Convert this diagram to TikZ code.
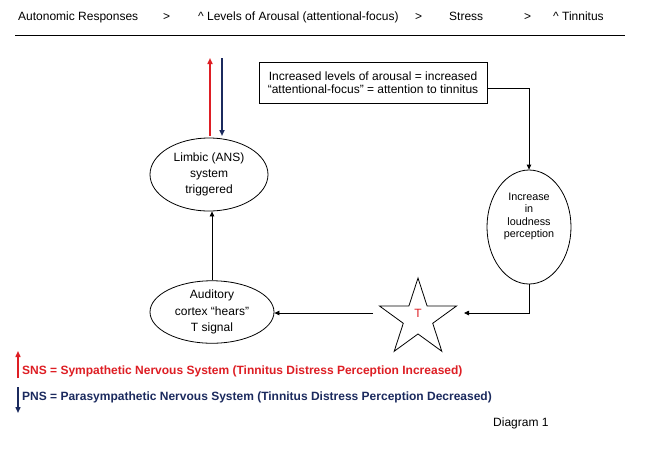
\documentclass[tikz,border=0pt]{standalone}
\usepackage{fontspec}
\setmainfont{Liberation Sans}
\usetikzlibrary{shapes.geometric,arrows.meta}
\definecolor{snsred}{RGB}{222,30,36}
\definecolor{pnsblue}{RGB}{27,42,94}
\begin{document}
\begin{tikzpicture}[x=1pt,y=-1pt,
  conn/.style={draw=black,line width=0.8pt,-{Triangle[length=5pt,width=4.5pt]}},
  oval/.style={draw,ellipse,line width=0.8pt,inner sep=0pt,align=center},
  hdr/.style={anchor=base west,inner sep=0pt,font=\fontsize{12}{14}\selectfont},
  legend/.style={anchor=west,inner sep=0pt,font=\bfseries\fontsize{12}{14}\selectfont},
  colarrow/.style={line width=1.6pt,-{Triangle[length=6pt,width=5pt]}}]
\useasboundingbox[fill=white] (0,0) rectangle (645,451);

% header
\node[hdr] (h1) at (18,20.5) {Autonomic Responses};
\node[hdr] (h2) at (163,20.5) {>};
\node[hdr] (h3) at (198,20.5) {\textasciicircum\ Levels of Arousal (attentional-focus)};
\node[hdr] (h4) at (415,20.5) {>};
\node[hdr] (h5) at (449,20.5) {Stress};
\node[hdr] (h6) at (524,20.5) {>};
\node[hdr] (h7) at (553,20.5) {\textasciicircum\ Tinnitus};
\coordinate (hl) at (15,35);
\coordinate (hr) at (625,35);
\draw[line width=1pt] (hl) -- (hr);

% nodes
\node[oval,minimum width=118pt,minimum height=73pt,font=\fontsize{12}{16}\selectfont] (limbic) at (209,174.5) {Limbic (ANS)\\system\\triggered};
\node[oval,minimum width=124pt,minimum height=62pt,font=\fontsize{12}{16.5}\selectfont] (aud) at (212,312) {Auditory\\cortex “hears”\\T signal};
\node[draw,line width=0.8pt,minimum width=228pt,minimum height=41pt,inner sep=0pt,align=center,font=\fontsize{12}{12.8}\selectfont] (box) at (373,82.5) {Increased levels of arousal = increased\\“attentional-focus” = attention to tinnitus};
\node[oval,minimum width=84pt,minimum height=114pt] (loud) at (529,227) {};
\node[inner sep=0pt,align=center,font=\fontsize{10.8}{12.3}\selectfont] (loudtxt) at (529,216.5) {Increase\\in\\loudness\\perception};
\node[star,star points=5,star point ratio=2.618,draw,line width=0.8pt,minimum size=81pt,inner sep=0pt] (star) at (418,318.5) {};
\node[inner sep=0pt,text=snsred,font=\fontsize{12}{14}\selectfont] (tlab) at (418,313) {T};

% connectors
\draw[conn] ([yshift=-6pt]box.east) -| (loud.north);
\coordinate (starin) at (464,313);
\draw[conn] (loud.south) |- (starin);
\coordinate (starout) at (373,313);
\draw[conn] (starout) -- (starout -| aud.east);
\draw[conn] (aud.north) -- (aud.north |- limbic.south);

% SNS / PNS arrows at limbic
\coordinate (r1) at (210,136);
\coordinate (r2) at (210,58);
\coordinate (b1) at (222,58);
\coordinate (b2) at (222,136);
\draw[colarrow,snsred] (r1) -- (r2);
\draw[colarrow,pnsblue] (b1) -- (b2);

% legend
\coordinate (ls1) at (18,378);
\coordinate (ls2) at (18,351);
\draw[colarrow,snsred,line width=1.4pt] (ls1) -- (ls2);
\node[legend,text=snsred] (sns) at (22,371) {SNS = Sympathetic Nervous System (Tinnitus Distress Perception Increased)};
\coordinate (lp1) at (18,387);
\coordinate (lp2) at (18,413);
\draw[colarrow,pnsblue,line width=1.4pt] (lp1) -- (lp2);
\node[legend,text=pnsblue] (pns) at (22,397) {PNS = Parasympathetic Nervous System (Tinnitus Distress Perception Decreased)};

\node[anchor=west,inner sep=0pt,font=\fontsize{12}{14}\selectfont] (diag) at (493,423) {Diagram 1};
\end{tikzpicture}
\end{document}
